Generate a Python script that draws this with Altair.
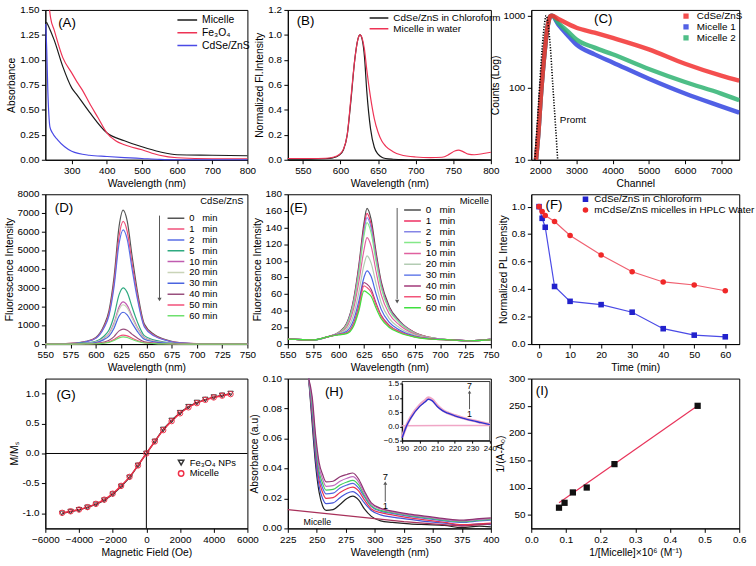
import altair as alt
import pandas as pd

FONT = "Liberation Sans"
W1, W2, W3, HH = 205, 206, 211, 152
NB = "\u00a0"

# ---------------- (A) absorbance ----------------
A_names = ["Micelle", "Fe₃O₄", "CdSe/ZnS"]
A_colors = ["#1a1a1a", "#ee3355", "#4a4ae6"]
A_x_micelle = [228, 235, 250, 275, 300, 315, 350, 400, 450, 500, 550, 600, 700, 800]
A_y_micelle = [1.38, 1.33, 1.20, 0.93, 0.72, 0.65, 0.48, 0.27, 0.19, 0.13, 0.08, 0.05, 0.045, 0.04]
A_x_fe = [237, 240, 250, 275, 300, 315, 330, 350, 375, 400, 425, 450, 500, 550, 600, 700, 800]
A_y_fe = [1.5, 1.42, 1.30, 1.02, 0.87, 0.78, 0.70, 0.57, 0.42, 0.27, 0.19, 0.15, 0.10, 0.045, 0.02, 0.01, 0.01]
A_x_cd = [226, 229, 232, 235, 238, 245, 260, 280, 300, 350, 400, 450, 500, 550, 600, 800]
A_y_cd = [1.36, 1.1, 0.7, 0.45, 0.33, 0.27, 0.2, 0.13, 0.085, 0.045, 0.033, 0.022, 0.013, 0.004, 0.0, 0.0]
A_yticks = [0, 0.25, 0.5, 0.75, 1.0, 1.25, 1.5]
A_ylabels = ["0.00", "0.25", "0.50", "0.75", "1.00", "1.25", "1.50"]

# ---------------- (B) normalized FL ----------------
B_names = ["CdSe/ZnS in Chloroform", "Micelle in water"]
B_colors = ["#1a1a1a", "#ee3355"]
B_x_cd = [530, 560, 580, 590, 598, 604, 609, 614, 619, 623, 626, 629, 632, 635, 640, 645, 650, 655, 660, 670, 680, 700, 750, 800]
B_y_cd = [0.005, 0.005, 0.008, 0.015, 0.035, 0.08, 0.2, 0.48, 0.8, 0.96, 1.0, 0.96, 0.82, 0.55, 0.25, 0.1, 0.045, 0.02, 0.01, 0.004, 0.002, 0.0, 0.003, 0.0]
B_x_mic = [530, 560, 580, 590, 598, 604, 609, 614, 619, 623, 626, 629, 632, 635, 640, 645, 650, 655, 660, 670, 680, 700, 720, 735, 745, 752, 757, 763, 770, 778, 790, 800]
B_y_mic = [0.01, 0.01, 0.012, 0.02, 0.04, 0.085, 0.2, 0.5, 0.8, 0.96, 1.0, 0.97, 0.88, 0.72, 0.5, 0.33, 0.22, 0.15, 0.11, 0.065, 0.04, 0.022, 0.017, 0.02, 0.045, 0.07, 0.077, 0.065, 0.045, 0.04, 0.05, 0.06]
B_yticks = [0, 0.2, 0.4, 0.6, 0.8, 1.0, 1.2]
B_ylabels = ["0.0", "0.2", "0.4", "0.6", "0.8", "1.0", "1.2"]

# ---------------- (C) decay ----------------
C_names = ["CdSe/ZnS", "Micelle 1", "Micelle 2"]
C_colors = ["#f23030", "#3344e0", "#2fb372"]
C_x_red = [1880, 1950, 2000, 2100, 2200, 2280, 2320, 2500, 3000, 3500, 4000, 5000, 6000, 7000, 7500]
C_y_red = [10, 25, 60, 250, 700, 980, 1000, 900, 680, 580, 490, 340, 215, 147, 125]
C_x_blue = [1880, 1950, 2000, 2100, 2200, 2280, 2320, 2500, 2750, 3000, 3500, 4000, 5000, 6000, 7000, 7500]
C_y_blue = [10, 25, 60, 250, 700, 980, 1000, 750, 540, 398, 290, 224, 133, 83, 55, 45]
C_x_green = [1880, 1950, 2000, 2100, 2200, 2280, 2320, 2500, 2750, 3000, 3500, 4000, 5000, 6000, 7000, 7500]
C_y_green = [10, 25, 60, 250, 700, 980, 1000, 790, 610, 466, 360, 291, 182, 120, 83, 67]
C_x_prompt = [1850, 1950, 2050, 2120, 2160, 2200, 2280, 2350, 2420, 2480]
C_y_prompt = [10, 60, 350, 800, 1000, 850, 350, 100, 30, 10]
C_yticks = [10, 100, 1000]
C_ylabels = ["10", "100", "1000"]

# ---------------- (D) CdSe/ZnS time series ----------------
TIMES = ["0", "1", "2", "5", "10", "20", "30", "40", "50", "60"]
D_labels = [(t + NB * 3 + "min") if len(t) == 1 else (t + NB + "min") for t in TIMES]
D_colors = ["#555555", "#f0507a", "#5a6ee6", "#2eaa80", "#c05cb0", "#c9d4b8", "#4a64e0", "#99507e", "#f2507a", "#6ee06e"]
D_x = [550, 575, 590, 600, 608, 613, 618, 623, 627, 631, 636, 641, 648, 658, 668, 678, 700, 725, 750]
D_0 = [0, 36, 143, 358, 1000, 1790, 3575, 6290, 7150, 6580, 4650, 2860, 1070, 500, 250, 110, 20, 0, 0]
D_1 = [0, 33, 131, 328, 917, 1640, 3275, 5765, 6550, 6025, 4260, 2620, 980, 460, 230, 100, 20, 0, 0]
D_2 = [0, 30, 122, 305, 855, 1525, 3050, 5370, 6100, 5610, 3965, 2440, 915, 425, 215, 90, 18, 0, 0]
D_5 = [0, 15, 60, 150, 420, 750, 1500, 2640, 3000, 2760, 1950, 1200, 450, 210, 105, 45, 9, 0, 0]
D_10 = [0, 11, 45, 113, 315, 563, 1125, 1980, 2250, 2070, 1463, 900, 338, 158, 79, 34, 7, 0, 0]
D_20 = [0, 10, 42, 105, 294, 525, 1050, 1850, 2100, 1930, 1365, 840, 315, 147, 74, 32, 6, 0, 0]
D_30 = [0, 9, 34, 85, 238, 425, 850, 1500, 1700, 1565, 1105, 680, 255, 119, 60, 26, 5, 0, 0]
D_40 = [0, 4, 16, 40, 112, 200, 400, 705, 800, 735, 520, 320, 120, 56, 28, 12, 2, 0, 0]
D_50 = [0, 2, 10, 24, 67, 120, 240, 422, 480, 440, 312, 192, 72, 34, 17, 7, 1, 0, 0]
D_60 = [0, 2, 8, 19, 53, 95, 190, 334, 380, 350, 247, 152, 57, 27, 13, 6, 1, 0, 0]
D_yticks = [0, 1000, 2000, 3000, 4000, 5000, 6000, 7000, 8000]
D_ylabels = ["0", "1000", "2000", "3000", "4000", "5000", "6000", "7000", "8000"]

# ---------------- (E) Micelle time series ----------------
E_colors = ["#4d4d4d", "#ee2f62", "#8585e6", "#84e888", "#e0609f", "#b3ccb3", "#4a66e6", "#a23a7a", "#f2557a", "#3fe03f"]
E_x = [550, 575, 590, 600, 608, 615, 620, 625, 628, 632, 637, 642, 650, 660, 675, 690, 710, 730, 750]
E_0 = [6, 5, 9, 14, 25, 55, 95, 145, 163, 150, 110, 75, 45, 28, 14, 8, 5, 4, 6]
E_1 = [6, 5, 9, 14, 24, 53, 92, 140, 157, 144, 106, 72, 43, 27, 14, 8, 5, 4, 6]
E_2 = [6, 5, 9, 13.5, 23.6, 51.5, 88.7, 135, 152, 140, 102.6, 70, 42.2, 26.5, 13.4, 7.8, 5, 4, 6]
E_5 = [6, 5, 9, 13.5, 22.8, 49.5, 85, 130, 146, 134, 98.6, 67.4, 40.7, 25.6, 13, 7.7, 5, 4, 5.5]
E_10 = [6, 5, 9, 13, 20.5, 43.4, 75, 113, 128, 118, 86.9, 59.5, 36.1, 23, 12, 7.3, 5, 4, 5.5]
E_20 = [6, 5, 9, 12.5, 17.8, 35.9, 62.5, 95, 106, 97.6, 72.1, 49.7, 30.6, 19.7, 10.8, 6.9, 5, 4, 5.5]
E_30 = [6, 5, 9, 12, 15.5, 29.7, 52, 80, 88, 81.4, 60, 41.7, 26, 17, 9.7, 6.6, 5, 4, 5]
E_40 = [6, 5, 9, 11.5, 13.7, 25.5, 46, 74, 72, 66, 49, 34.5, 22.5, 15.1, 8.9, 6.3, 5, 4, 5]
E_50 = [6, 5, 9, 11.5, 13.2, 24, 43.5, 70, 68, 62.5, 46.5, 33, 21.4, 14.5, 8.7, 6.2, 5, 4, 5]
E_60 = [6, 5, 9, 11, 12.5, 22, 40, 64, 62, 57.5, 43, 30.5, 20, 13.6, 8.4, 6.1, 5, 4, 5]
E_yticks = [0, 20, 40, 60, 80, 100, 120, 140, 160, 180]
E_ylabels = ["0", "20", "40", "60", "80", "100", "120", "140", "160", "180"]

# ---------------- (F) PL stability ----------------
F_names = ["CdSe/ZnS in Chloroform", "mCdSe/ZnS micelles in HPLC Water"]
F_time = [0, 1, 2, 5, 10, 20, 30, 40, 50, 60]
F_chloro = [1.0, 0.915, 0.85, 0.419, 0.311, 0.287, 0.232, 0.112, 0.065, 0.053]
F_water = [1.0, 0.964, 0.935, 0.892, 0.79, 0.648, 0.526, 0.452, 0.43, 0.388]
F_yticks = [0, 0.2, 0.4, 0.6, 0.8, 1.0]
F_ylabels = ["0.0", "0.2", "0.4", "0.6", "0.8", "1.0"]

# ---------------- (G) magnetization ----------------
G_names = ["Fe₃O₄ NPs", "Micelle"]
G_field = [-5000, -4500, -4000, -3500, -3000, -2500, -2000, -1500, -1000, -500, 0,
           500, 1000, 1500, 2000, 2500, 3000, 3500, 4000, 4500, 5000]
G_fe = [-1.0, -0.97, -0.94, -0.9, -0.85, -0.78, -0.68, -0.55, -0.4, -0.2, 0.0,
        0.2, 0.4, 0.55, 0.68, 0.78, 0.85, 0.9, 0.94, 0.97, 1.0]
G_mic = [-0.99, -0.965, -0.935, -0.895, -0.84, -0.77, -0.67, -0.54, -0.39, -0.2, 0.0,
         0.2, 0.39, 0.54, 0.67, 0.77, 0.84, 0.895, 0.935, 0.965, 0.99]
G_yticks = [-1.0, -0.5, 0.0, 0.5, 1.0]
G_ylabels = ["-1.0", "-0.5", "0.0", "0.5", "1.0"]

# ---------------- (H) absorbance titration ----------------
H_names = ["1", "2", "3", "4", "5", "6", "7"]
H_colors = ["#222222", "#4453d6", "#e8334f", "#5566e2", "#3fcf5a", "#c06cc0", "#8e3470"]
H_x = [243, 246, 249, 252, 255, 258, 264, 270, 276, 281, 286, 291, 297, 305, 315, 330, 345, 360, 375, 390, 400]
H_1 = [0.1, 0.07, 0.042, 0.024, 0.015, 0.012, 0.0125, 0.016, 0.020, 0.0215, 0.019, 0.013, 0.008, 0.005, 0.004, 0.003, 0.0025, 0.002, 0.0005, 0.0015, 0.001]
H_2 = [0.1, 0.074, 0.046, 0.028, 0.02, 0.0165, 0.017, 0.0205, 0.0235, 0.0245, 0.022, 0.017, 0.012, 0.009, 0.0075, 0.006, 0.0045, 0.0035, 0.002, 0.003, 0.0025]
H_3 = [0.1, 0.077, 0.05, 0.032, 0.024, 0.020, 0.0205, 0.024, 0.0265, 0.0275, 0.025, 0.019, 0.013, 0.0105, 0.009, 0.007, 0.0055, 0.004, 0.0025, 0.003, 0.0035]
H_4 = [0.1, 0.08, 0.053, 0.035, 0.027, 0.023, 0.0235, 0.027, 0.029, 0.030, 0.027, 0.021, 0.0145, 0.0115, 0.01, 0.008, 0.0065, 0.005, 0.004, 0.005, 0.0055]
H_5 = [0.1, 0.082, 0.056, 0.038, 0.03, 0.0255, 0.026, 0.029, 0.031, 0.032, 0.029, 0.022, 0.015, 0.012, 0.0105, 0.0085, 0.007, 0.0055, 0.0045, 0.0055, 0.006]
H_6 = [0.1, 0.085, 0.059, 0.041, 0.033, 0.028, 0.0285, 0.0315, 0.0335, 0.0345, 0.031, 0.0235, 0.016, 0.013, 0.011, 0.009, 0.0075, 0.006, 0.005, 0.006, 0.0065]
H_7 = [0.1, 0.088, 0.062, 0.044, 0.036, 0.031, 0.0315, 0.0345, 0.036, 0.037, 0.033, 0.025, 0.017, 0.0135, 0.0115, 0.0095, 0.008, 0.0065, 0.0055, 0.0065, 0.007]
H_mic_x = [225, 250, 275, 300, 325, 350, 375, 400]
H_mic_y = [0.0125, 0.0105, 0.0085, 0.0065, 0.0045, 0.003, 0.0015, 0.003]
H_yticks = [0, 0.02, 0.04, 0.06, 0.08, 0.1]
H_ylabels = ["0.00", "0.02", "0.04", "0.06", "0.08", "0.10"]
# inset
HI_x = [190, 192.4, 195, 200, 203, 205, 207, 210, 213, 216, 220, 225, 230, 235, 240]
HI_blue = [-0.4, 0.0, 0.3, 0.7, 0.85, 0.95, 0.9, 0.7, 0.55, 0.46, 0.37, 0.28, 0.2, 0.13, 0.06]
HI_pink = [-0.38, 0.02, 0.33, 0.74, 0.9, 1.0, 0.94, 0.73, 0.57, 0.47, 0.38, 0.29, 0.21, 0.14, 0.07]
HI_mic_x = [190, 215, 240]
HI_mic_y = [0.02, 0.03, 0.03]

# ---------------- (I) Benesi-Hildebrand ----------------
I_x = [0.08, 0.096, 0.12, 0.16, 0.24, 0.48]
I_y = [63, 72, 91, 100, 143, 250]
I_fit_x = [0.08, 0.48]
I_fit_y = [72, 250]
I_yticks = [50, 100, 150, 200, 250, 300]
I_ylabels = ["50", "100", "150", "200", "250", "300"]


# ================= helpers =================
CHAR_W = {".": 2.78, "-": 3.33}


def text_w(s, fs=10):
    return sum(CHAR_W.get(c, 5.56) for c in s) * fs / 10.0


def long_df(xs_list, ys_list, names):
    rows = []
    for k, (xs, ys, n) in enumerate(zip(xs_list, ys_list, names)):
        for i, (x, y) in enumerate(zip(xs, ys)):
            rows.append({"x": x, "y": y, "s": n, "k": k, "i": i})
    return pd.DataFrame(rows)


def axis(vals, title, fmt=None, **kw):
    d = dict(values=vals, title=title, labelOverlap=False, labelFlush=False, labelBound=False)
    if fmt:
        d["format"] = fmt
    d.update(kw)
    return alt.Axis(**d)


def xenc(domain, vals, title, fmt=None, log=False, **kw):
    sc = alt.Scale(domain=domain, nice=False, zero=False, type="log" if log else "linear")
    return alt.X("x:Q", scale=sc, axis=axis(vals, title, fmt, **kw))


def yenc_manual(domain, vals, labels, title, log=False):
    # y axis whose labels are drawn by an explicit text layer (ylabels)
    sc = alt.Scale(domain=domain, nice=False, zero=False, type="log" if log else "linear")
    pad = max(text_w(s) for s in labels) + 5
    return alt.Y("y:Q", scale=sc, axis=axis(vals, title, labels=False, titlePadding=pad))


def ylabels(vals, labels, yenc_obj):
    df = pd.DataFrame({"y": vals, "t": labels})
    return alt.Chart(df).mark_text(font=FONT, fontSize=10, align="right", baseline="middle", color="black").encode(
        x=alt.value(-6), y=yenc_obj, text="t:N")


def leg(x, y, step, fs=10, sym="stroke", symsize=400, sw=1.5, offset=4):
    d = dict(orient="none", legendX=x, legendY=y, title=None, direction="vertical",
             labelFontSize=fs, labelFont=FONT, labelColor="black", clipHeight=step,
             rowPadding=0, padding=0, labelOffset=offset, labelLimit=400,
             symbolSize=symsize, symbolStrokeWidth=sw)
    if sym:
        d["symbolType"] = sym
    return alt.Legend(**d)


def label(t, x, y, size=13.5, align="center"):
    return alt.Chart(pd.DataFrame({"t": [t]})).mark_text(
        font=FONT, fontSize=size, align=align, baseline="middle", color="black"
    ).encode(x=alt.value(x), y=alt.value(y), text="t:N")


def cscale(names, colors):
    return alt.Scale(domain=names, range=colors)


# ================= (A) =================
dfA = long_df([A_x_micelle, A_x_fe, A_x_cd], [A_y_micelle, A_y_fe, A_y_cd], A_names)
xA = xenc([225, 800], [300, 400, 500, 600, 700, 800], "Wavelength (nm)")
yA = yenc_manual([0, 1.5], A_yticks, A_ylabels, "Absorbance")
chartA = alt.layer(
    alt.Chart(dfA).mark_line(strokeWidth=1.2, interpolate="monotone").encode(
        x=xA, y=yA,
        color=alt.Color("s:N", scale=cscale(A_names, A_colors), legend=leg(133, 4, 12.3, fs=10.5)),
    ),
    ylabels(A_yticks, A_ylabels, yA),
    label("(A)", 22, 13),
).properties(width=W1, height=HH)

# ================= (B) =================
dfB = long_df([B_x_cd, B_x_mic], [B_y_cd, B_y_mic], B_names)
xB = xenc([530, 800], [550, 600, 650, 700, 750, 800], "Wavelength (nm)")
yB = yenc_manual([0, 1.2], B_yticks, B_ylabels, "Normalized Fl.Intensity")
chartB = alt.layer(
    alt.Chart(dfB).mark_line(strokeWidth=1.2, interpolate="monotone").encode(
        x=xB, y=yB,
        color=alt.Color("s:N", scale=cscale(B_names, B_colors), legend=leg(82, 3, 10.2, fs=10, symsize=361)),
    ),
    ylabels(B_yticks, B_ylabels, yB),
    label("(B)", 18, 11),
).properties(width=W2, height=HH)

# ================= (C) =================
xC = xenc([1750, 7500], [2000, 3000, 4000, 5000, 6000, 7000], "Channel", "d")
yC = yenc_manual([10, 1200], C_yticks, C_ylabels, "Counts (Log)", log=True)
colC = alt.Color("s:N", scale=cscale(C_names, C_colors),
                 legend=leg(152, 1.5, 9.6, fs=10, sym="square", symsize=8, sw=2.5, offset=6))
layersC = []
for xs, ys, nm in [(C_x_blue, C_y_blue, "Micelle 1"), (C_x_green, C_y_green, "Micelle 2"), (C_x_red, C_y_red, "CdSe/ZnS")]:
    d = long_df([xs], [ys], [nm])
    layersC.append(alt.Chart(d).mark_line(strokeWidth=4.5, opacity=0.85, interpolate="monotone").encode(x=xC, y=yC, color=colC))
dfCp = long_df([C_x_prompt], [C_y_prompt], ["Promt"])
layersC.append(alt.Chart(dfCp).mark_line(strokeWidth=1.6, strokeDash=[1.2, 1.6], color="black", interpolate="monotone").encode(x=xC, y=yC))
chartC = alt.layer(*layersC, ylabels(C_yticks, C_ylabels, yC), label("(C)", 73, 9),
                   label("Promt", 29, 112, size=10, align="left")).properties(width=W3, height=HH)

# ================= (D) =================
dfD = long_df([D_x] * 10, [D_0, D_1, D_2, D_5, D_10, D_20, D_30, D_40, D_50, D_60], D_labels)
xD = xenc([550, 750], [550, 575, 600, 625, 650, 675, 700, 725, 750], "Wavelength (nm)")
yD = yenc_manual([0, 8000], D_yticks, D_ylabels, "Fluorescence Intensity")
D_arrow = pd.DataFrame({"x": [663], "y": [6860], "y2": [2450]})
D_head = pd.DataFrame({"x": [663], "y": [2380]})
chartD = alt.layer(
    alt.Chart(dfD).mark_line(strokeWidth=1.2, interpolate="monotone").encode(
        x=xD, y=yD,
        color=alt.Color("s:N", scale=cscale(D_labels, D_colors), sort=D_labels,
                        legend=leg(123, 19.7, 9.26, fs=9.5, symsize=289)),
    ),
    alt.Chart(D_arrow).mark_rule(color="#555", strokeWidth=1).encode(x=xD, y=yD, y2="y2:Q"),
    alt.Chart(D_head).mark_point(shape="triangle-down", filled=True, size=18, color="#555", opacity=1).encode(x=xD, y=yD),
    ylabels(D_yticks, D_ylabels, yD),
    label("(D)", 19, 13.5),
    label("CdSe/ZnS", 201, 6.5, size=9.5, align="right"),
).properties(width=W1, height=HH)

# ================= (E) =================
dfE = long_df([E_x] * 10, [E_0, E_1, E_2, E_5, E_10, E_20, E_30, E_40, E_50, E_60], D_labels)
xE = xenc([550, 750], [550, 575, 600, 625, 650, 675, 700, 725, 750], "Wavelength (nm)")
yE = yenc_manual([0, 180], E_yticks, E_ylabels, "Fluorescence Intensity")
E_arrow = pd.DataFrame({"x": [657.7], "y": [163.5], "y2": [54]})
E_head = pd.DataFrame({"x": [657.7], "y": [51]})
chartE = alt.layer(
    alt.Chart(dfE).mark_line(strokeWidth=1.2, interpolate="monotone").encode(
        x=xE, y=yE,
        color=alt.Color("s:N", scale=cscale(D_labels, E_colors), sort=D_labels,
                        legend=leg(117, 10.9, 10.3, fs=10, symsize=289)),
    ),
    alt.Chart(E_arrow).mark_rule(color="#555", strokeWidth=1).encode(x=xE, y=yE, y2="y2:Q"),
    alt.Chart(E_head).mark_point(shape="triangle-down", filled=True, size=18, color="#555", opacity=1).encode(x=xE, y=yE),
    ylabels(E_yticks, E_ylabels, yE),
    label("(E)", 11, 14),
    label("Micelle", 204, 7, size=9.5, align="right"),
).properties(width=W2, height=HH)

# ================= (F) =================
dfF = long_df([F_time, F_time], [F_chloro, F_water], F_names)
xF = xenc([-2.5, 64.5], [0, 10, 20, 30, 40, 50, 60], "Time (min)", "d")
yF = yenc_manual([0, 1.09], F_yticks, F_ylabels, "Normalized PL Intensity")
legF = leg(50, -0.5, 11, fs=10, sym=None, symsize=32)
chartF = alt.layer(
    alt.Chart(dfF[dfF.s == F_names[0]]).mark_line(strokeWidth=1.2, color="#4a4ae6").encode(x=xF, y=yF),
    alt.Chart(dfF[dfF.s == F_names[1]]).mark_line(strokeWidth=1.2, color="#f06070").encode(x=xF, y=yF),
    alt.Chart(dfF).mark_point(filled=True, size=32, opacity=1).encode(
        x=xF, y=yF,
        color=alt.Color("s:N", scale=cscale(F_names, ["#2222cc", "#f02828"]), legend=legF),
        shape=alt.Shape("s:N", scale=alt.Scale(domain=F_names, range=["square", "circle"]), legend=legF),
    ),
    ylabels(F_yticks, F_ylabels, yF),
    label("(F)", 23, 11),
).properties(width=W3, height=HH)

# ================= (G) =================
dfG = long_df([G_field, G_field], [G_fe, G_mic], G_names)
xG = xenc([-6000, 6000], [-6000, -4000, -2000, 0, 2000, 4000, 6000], "Magnetic Field (Oe)", "d")
yG = yenc_manual([-1.25, 1.25], G_yticks, G_ylabels, "M/Mₛ")
zero = pd.DataFrame({"x": [0], "y": [0]})
legG = leg(133, 80.5, 9.5, fs=9.5, sym=None, symsize=30)
chartG = alt.layer(
    alt.Chart(zero).mark_rule(color="black", strokeWidth=1).encode(x=xG),
    alt.Chart(zero).mark_rule(color="black", strokeWidth=1).encode(y=yG),
    alt.Chart(dfG[dfG.s == G_names[0]]).mark_line(strokeWidth=1.3, color="#222", interpolate="monotone").encode(x=xG, y=yG),
    alt.Chart(dfG[dfG.s == G_names[1]]).mark_line(strokeWidth=1.5, color="#f03048", interpolate="monotone").encode(x=xG, y=yG),
    alt.Chart(dfG).mark_point(filled=False, size=30, opacity=1, strokeWidth=1).encode(
        x=xG, y=yG,
        color=alt.Color("s:N", scale=cscale(G_names, ["#333333", "#f03048"]), legend=legG),
        shape=alt.Shape("s:N", scale=alt.Scale(domain=G_names, range=["triangle-down", "circle"]), legend=legG),
    ),
    ylabels(G_yticks, G_ylabels, yG),
    label("(G)", 21, 17),
).properties(width=W1, height=HH)

# ================= (H) =================
dfH = long_df([H_x] * 7, [H_1, H_2, H_3, H_4, H_5, H_6, H_7], H_names)
dfHm = long_df([H_mic_x], [H_mic_y], ["Micelle"])
xH = xenc([225, 400], [225, 250, 275, 300, 325, 350, 375, 400], "Wavelength (nm)")
yH = yenc_manual([0, 0.1], H_yticks, H_ylabels, "Absorbance (a.u)")
H_arrow = pd.DataFrame({"x": [309], "y": [0.0178], "y2": [0.0295]})
H_head = pd.DataFrame({"x": [309], "y": [0.0302]})
H_txt = pd.DataFrame({"x": [309, 309], "y": [0.0345, 0.0147], "t": ["7", "1"]})
mainH = alt.layer(
    alt.Chart(dfH).mark_line(strokeWidth=1.2, interpolate="monotone").encode(
        x=xH, y=yH, color=alt.Color("s:N", scale=cscale(H_names, H_colors), legend=None)),
    alt.Chart(dfHm).mark_line(strokeWidth=1.2, color="#a8305a").encode(x=xH, y=yH),
    alt.Chart(H_arrow).mark_rule(color="#555").encode(x=xH, y=yH, y2="y2:Q"),
    alt.Chart(H_head).mark_point(shape="triangle-up", filled=True, size=16, color="#555", opacity=1).encode(x=xH, y=yH),
    alt.Chart(H_txt).mark_text(font=FONT, fontSize=9.5, color="black").encode(x=xH, y=yH, text="t:N"),
    ylabels(H_yticks, H_ylabels, yH),
)
IX = alt.Scale(domain=[190, 240], range=[116, 205], nice=False, zero=False)
IY = alt.Scale(domain=[-0.5, 1.5], range=[63, 5], nice=False, zero=False)
ixax = alt.Axis(values=[190, 200, 210, 220, 230, 240], title=None, orient="bottom", offset=-(HH - 63),
                labelFontSize=8, tickSize=2.5, labelPadding=1, format="d", labelOverlap=False, labelFlush=False)
iyax = alt.Axis(values=[-0.5, 0, 0.5, 1.0, 1.5], title=None, orient="left", offset=-116,
                labelFontSize=8, tickSize=2.5, labelPadding=1, format=".1f", labelOverlap=False, labelFlush=False)
ixe = alt.X("x:Q", scale=IX, axis=ixax)
iye = alt.Y("y:Q", scale=IY, axis=iyax)
dfHIb = long_df([HI_x], [HI_blue], ["b"])
dfHIp = long_df([HI_x], [HI_pink], ["p"])
dfHIm = long_df([HI_mic_x], [HI_mic_y], ["m"])
HI_arrow = pd.DataFrame({"x": [228.4], "y": [0.6], "y2": [1.18]})
HI_head = pd.DataFrame({"x": [228.4], "y": [1.2]})
HI_txt = pd.DataFrame({"x": [228.4, 228.4], "y": [1.42, 0.43], "t": ["7", "1"]})
insetH = alt.layer(
    alt.Chart(pd.DataFrame({"a": [0]})).mark_rect(fillOpacity=0, stroke="black", strokeWidth=0.8).encode(
        x=alt.value(116), x2=alt.value(205), y=alt.value(3), y2=alt.value(63)),
    alt.Chart(dfHIm).mark_line(strokeWidth=1.5, color="#f0a6c6").encode(x=ixe, y=iye),
    alt.Chart(dfHIp).mark_line(strokeWidth=3, color="#f0a6c6", interpolate="monotone").encode(x=ixe, y=iye),
    alt.Chart(dfHIb).mark_line(strokeWidth=1.4, color="#2a32d0", interpolate="monotone").encode(x=ixe, y=iye),
    alt.Chart(HI_arrow).mark_rule(color="#555").encode(x=ixe, y=iye, y2="y2:Q"),
    alt.Chart(HI_head).mark_point(shape="triangle-up", filled=True, size=12, color="#555", opacity=1).encode(x=ixe, y=iye),
    alt.Chart(HI_txt).mark_text(font=FONT, fontSize=9, color="black").encode(x=ixe, y=iye, text="t:N"),
)
chartH = alt.layer(
    mainH, insetH, label("(H)", 47, 14), label("Micelle", 16, 146, size=9, align="left")
).resolve_scale(x="independent", y="independent").properties(width=W2, height=HH)

# ================= (I) =================
dfI = pd.DataFrame({"x": I_x, "y": I_y})
dfIf = pd.DataFrame({"x": I_fit_x, "y": I_fit_y})
xI = xenc([0, 0.6], [0, 0.1, 0.2, 0.3, 0.4, 0.5, 0.6], "1/[Micelle]×10⁶ (M⁻¹)", ".1f")
yI = yenc_manual([25, 300], I_yticks, I_ylabels, "1/(A-A₀)")
chartI = alt.layer(
    alt.Chart(dfIf).mark_line(strokeWidth=1.2, color="#e8335a").encode(x=xI, y=yI),
    alt.Chart(dfI).mark_point(shape="square", filled=True, size=40, color="#111", opacity=1).encode(x=xI, y=yI),
    ylabels(I_yticks, I_ylabels, yI),
    label("(I)", 11, 12.5),
).properties(width=W3, height=HH)

chart = alt.concat(
    chartA, chartB, chartC, chartD, chartE, chartF, chartG, chartH, chartI,
    columns=3, spacing={"row": 35, "column": 41}, bounds="flush", align="each",
).resolve_scale(color="independent", shape="independent").properties(
    padding={"left": 3, "top": 0, "right": 0, "bottom": 0}
).configure_axis(
    labelFont=FONT, titleFont=FONT, labelFontSize=10, titleFontSize=10.5, titleFontWeight="normal",
    labelColor="black", titleColor="black", tickColor="black", domainColor="black",
    grid=False, tickSize=4, labelPadding=2, titlePadding=3,
).configure_view(stroke="black", strokeWidth=1)

chart.save("out.html", embed_options={"renderer": "svg", "actions": False})
